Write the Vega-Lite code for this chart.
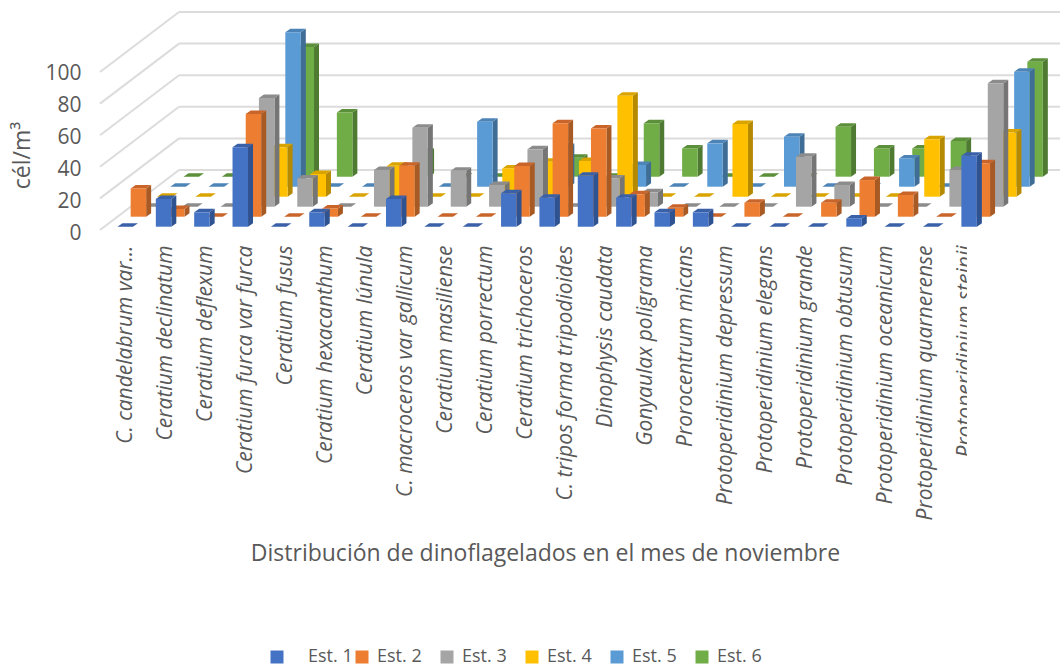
{
"$schema":"https://vega.github.io/schema/vega-lite/v6.json",
"autosize":"none","width":960,"height":220,
"padding":{"left":100,"top":10,"right":0,"bottom":439},
"background":"white",
"view":{"stroke":null},
"layer":[
{"data":{"values":[{"level":0},{"level":20},{"level":40},{"level":60},{"level":80},{"level":100}]},
 "transform":[{"calculate":"datum.level*0.9875","as":"front"},{"calculate":"datum.front+37.5","as":"back"}],
 "mark":{"type":"rule","color":"#dcdcdc","strokeWidth":2},
 "encoding":{
  "x":{"datum":0,"scale":{"domain":[0,25.026]},"axis":null},
  "x2":{"datum":2.06},
  "y":{"field":"front","type":"quantitative","scale":{"domain":[0,137.5],"nice":false},
   "axis":{"values":[0,20,40,60,80,100],"domain":false,"ticks":false,"grid":false,"labelFont":"Open Sans","labelFontSize":21,"labelColor":"#595959","labelPadding":19,"labelOffset":3,"title":"cél/m³","titleFont":"Open Sans","titleFontSize":23,"titleFontWeight":"normal","titleColor":"#595959","titleX":-78,"titleY":145,"titleAnchor":"middle","titleAlign":"center","titleBaseline":"middle","titleAngle":-90}},
  "y2":{"field":"back"}}},
{"data":{"values":[{"level":0},{"level":20},{"level":40},{"level":60},{"level":80},{"level":100}]},
 "transform":[{"calculate":"datum.level*0.9875+37.5","as":"back"}],
 "mark":{"type":"rule","color":"#dcdcdc","strokeWidth":2},
 "encoding":{
  "x":{"datum":2.06,"scale":{"domain":[0,25.026]},"axis":null},
  "x2":{"datum":25.026},
  "y":{"field":"back","type":"quantitative","scale":{"domain":[0,137.5],"nice":false}}}},
{"data":{"values":[
{"n":0,"est":"Est. 6","val":0},{"n":1,"est":"Est. 6","val":0},{"n":2,"est":"Est. 6","val":0},{"n":3,"est":"Est. 6","val":81},{"n":4,"est":"Est. 6","val":40.2},{"n":5,"est":"Est. 6","val":0},{"n":6,"est":"Est. 6","val":15.6},{"n":7,"est":"Est. 6","val":0},{"n":8,"est":"Est. 6","val":0},{"n":9,"est":"Est. 6","val":0},{"n":10,"est":"Est. 6","val":11.9},{"n":11,"est":"Est. 6","val":0},{"n":12,"est":"Est. 6","val":33.4},{"n":13,"est":"Est. 6","val":17.7},{"n":14,"est":"Est. 6","val":0},{"n":15,"est":"Est. 6","val":0},{"n":16,"est":"Est. 6","val":0},{"n":17,"est":"Est. 6","val":31.2},{"n":18,"est":"Est. 6","val":17.7},{"n":19,"est":"Est. 6","val":17.7},{"n":20,"est":"Est. 6","val":22.3},{"n":21,"est":"Est. 6","val":0},{"n":22,"est":"Est. 6","val":71.9},
{"n":0,"est":"Est. 5","val":0},{"n":1,"est":"Est. 5","val":0},{"n":2,"est":"Est. 5","val":0},{"n":3,"est":"Est. 5","val":96.5},{"n":4,"est":"Est. 5","val":0},{"n":5,"est":"Est. 5","val":0},{"n":6,"est":"Est. 5","val":0},{"n":7,"est":"Est. 5","val":0},{"n":8,"est":"Est. 5","val":40.6},{"n":9,"est":"Est. 5","val":0},{"n":10,"est":"Est. 5","val":24.8},{"n":11,"est":"Est. 5","val":0},{"n":12,"est":"Est. 5","val":13.6},{"n":13,"est":"Est. 5","val":0},{"n":14,"est":"Est. 5","val":27.1},{"n":15,"est":"Est. 5","val":0},{"n":16,"est":"Est. 5","val":31.2},{"n":17,"est":"Est. 5","val":0},{"n":18,"est":"Est. 5","val":0},{"n":19,"est":"Est. 5","val":17.7},{"n":20,"est":"Est. 5","val":0},{"n":21,"est":"Est. 5","val":0},{"n":22,"est":"Est. 5","val":71.9},
{"n":0,"est":"Est. 4","val":0},{"n":1,"est":"Est. 4","val":0},{"n":2,"est":"Est. 4","val":0},{"n":3,"est":"Est. 4","val":30.9},{"n":4,"est":"Est. 4","val":14.2},{"n":5,"est":"Est. 4","val":0},{"n":6,"est":"Est. 4","val":19.4},{"n":7,"est":"Est. 4","val":0},{"n":8,"est":"Est. 4","val":0},{"n":9,"est":"Est. 4","val":17.7},{"n":10,"est":"Est. 4","val":21.9},{"n":11,"est":"Est. 4","val":22.3},{"n":12,"est":"Est. 4","val":63.1},{"n":13,"est":"Est. 4","val":0},{"n":14,"est":"Est. 4","val":0},{"n":15,"est":"Est. 4","val":45.4},{"n":16,"est":"Est. 4","val":0},{"n":17,"est":"Est. 4","val":0},{"n":18,"est":"Est. 4","val":0},{"n":19,"est":"Est. 4","val":0},{"n":20,"est":"Est. 4","val":35.9},{"n":21,"est":"Est. 4","val":0},{"n":22,"est":"Est. 4","val":40.2},
{"n":0,"est":"Est. 3","val":0},{"n":1,"est":"Est. 3","val":0},{"n":2,"est":"Est. 3","val":0},{"n":3,"est":"Est. 3","val":68},{"n":4,"est":"Est. 3","val":17.7},{"n":5,"est":"Est. 3","val":0},{"n":6,"est":"Est. 3","val":23},{"n":7,"est":"Est. 3","val":49.4},{"n":8,"est":"Est. 3","val":22.5},{"n":9,"est":"Est. 3","val":13.6},{"n":10,"est":"Est. 3","val":35.9},{"n":11,"est":"Est. 3","val":0},{"n":12,"est":"Est. 3","val":17.7},{"n":13,"est":"Est. 3","val":9},{"n":14,"est":"Est. 3","val":0},{"n":15,"est":"Est. 3","val":0},{"n":16,"est":"Est. 3","val":0},{"n":17,"est":"Est. 3","val":31.2},{"n":18,"est":"Est. 3","val":13.6},{"n":19,"est":"Est. 3","val":0},{"n":20,"est":"Est. 3","val":0},{"n":21,"est":"Est. 3","val":22.9},{"n":22,"est":"Est. 3","val":77.1},
{"n":0,"est":"Est. 2","val":17.7},{"n":1,"est":"Est. 2","val":4.8},{"n":2,"est":"Est. 2","val":0},{"n":3,"est":"Est. 2","val":64.2},{"n":4,"est":"Est. 2","val":0},{"n":5,"est":"Est. 2","val":5.2},{"n":6,"est":"Est. 2","val":0},{"n":7,"est":"Est. 2","val":31.9},{"n":8,"est":"Est. 2","val":0},{"n":9,"est":"Est. 2","val":0},{"n":10,"est":"Est. 2","val":31.7},{"n":11,"est":"Est. 2","val":58.4},{"n":12,"est":"Est. 2","val":55.2},{"n":13,"est":"Est. 2","val":14},{"n":14,"est":"Est. 2","val":5.6},{"n":15,"est":"Est. 2","val":0},{"n":16,"est":"Est. 2","val":8.75},{"n":17,"est":"Est. 2","val":0},{"n":18,"est":"Est. 2","val":8.75},{"n":19,"est":"Est. 2","val":22.9},{"n":20,"est":"Est. 2","val":13.6},{"n":21,"est":"Est. 2","val":0},{"n":22,"est":"Est. 2","val":33.4},
{"n":0,"est":"Est. 1","val":0},{"n":1,"est":"Est. 1","val":17.3},{"n":2,"est":"Est. 1","val":9},{"n":3,"est":"Est. 1","val":49.6},{"n":4,"est":"Est. 1","val":0},{"n":5,"est":"Est. 1","val":9},{"n":6,"est":"Est. 1","val":0},{"n":7,"est":"Est. 1","val":17.3},{"n":8,"est":"Est. 1","val":0},{"n":9,"est":"Est. 1","val":0},{"n":10,"est":"Est. 1","val":20.9},{"n":11,"est":"Est. 1","val":18.1},{"n":12,"est":"Est. 1","val":31.9},{"n":13,"est":"Est. 1","val":18.1},{"n":14,"est":"Est. 1","val":9},{"n":15,"est":"Est. 1","val":9},{"n":16,"est":"Est. 1","val":0},{"n":17,"est":"Est. 1","val":0},{"n":18,"est":"Est. 1","val":0},{"n":19,"est":"Est. 1","val":5.2},{"n":20,"est":"Est. 1","val":0},{"n":21,"est":"Est. 1","val":0},{"n":22,"est":"Est. 1","val":44.4}
]},
 "transform":[
  {"calculate":"toNumber(substring(datum.est,5))-1","as":"s"},
  {"calculate":"0.455+datum.n+0.344*datum.s","as":"xl"},
  {"calculate":"2.06+6.25*datum.s","as":"b"},
  {"calculate":"datum.b+datum.val","as":"t"},
  {"calculate":"[{x:datum.xl+0.404,y:datum.t,y2:datum.b,f:' lado'},{x:datum.xl+0.534,y:datum.t+2.19,y2:datum.b+2.19,f:' lado'},{x:datum.xl,y:datum.t,y2:datum.t,f:' tapa'},{x:datum.xl+0.13,y:datum.t+2.19,y2:datum.t,f:' tapa'},{x:datum.xl+0.404,y:datum.t+2.19,y2:datum.t,f:' tapa'},{x:datum.xl+0.534,y:datum.t+2.19,y2:datum.t+2.19,f:' tapa'},{x:datum.xl,y:datum.t,y2:datum.b,f:''},{x:datum.xl+0.404,y:datum.t,y2:datum.b,f:''}]","as":"p"},
  {"flatten":["p"]},
  {"calculate":"datum.p.x","as":"px"},
  {"calculate":"datum.p.y","as":"py"},
  {"calculate":"datum.p.y2","as":"py2"},
  {"calculate":"datum.est+datum.p.f","as":"shade"},
  {"calculate":"datum.n+' '+datum.shade","as":"face"}
 ],
 "mark":{"type":"area","interpolate":"linear","strokeWidth":0},
 "encoding":{
  "x":{"field":"px","type":"quantitative","scale":{"domain":[0,25.026]},"axis":null},
  "y":{"field":"py","type":"quantitative","stack":null,"scale":{"domain":[0,137.5],"nice":false}},
  "y2":{"field":"py2"},
  "detail":{"field":"face"},
  "fill":{"field":"shade","type":"nominal",
   "scale":{"domain":["Est. 1","Est. 2","Est. 3","Est. 4","Est. 5","Est. 6","Est. 1 lado","Est. 2 lado","Est. 3 lado","Est. 4 lado","Est. 5 lado","Est. 6 lado","Est. 1 tapa","Est. 2 tapa","Est. 3 tapa","Est. 4 tapa","Est. 5 tapa","Est. 6 tapa"],
    "range":["#4472C4","#ED7D31","#A5A5A5","#FFC000","#5B9BD5","#70AD47","#2F5290","#A85A25","#757575","#B58900","#3F6D96","#4F7A32","#3A61A8","#C9652A","#8C8C8C","#D9A400","#4C84B7","#5C8F3A"]},
   "legend":{"values":["Est. 1","Est. 2","Est. 3","Est. 4","Est. 5","Est. 6"],"title":null,"orient":"none","legendX":168,"legendY":638,"direction":"horizontal","columns":6,"gridAlign":"all","columnPadding":0,"symbolType":"square","symbolSize":169,"symbolStrokeWidth":0,"labelFont":"Open Sans","labelFontSize":18,"labelColor":"#595959","labelOffset":6,
    "encoding":{"labels":{"dx":{"value":{"expr":"datum.value=='Est. 1'?16:0"}}}}}}}},
{"data":{"values":[{"name":"C. candelabrum var…"},{"name":"Ceratium declinatum"},{"name":"Ceratium deflexum"},{"name":"Ceratium furca var furca"},{"name":"Ceratium fusus"},{"name":"Ceratium hexacanthum"},{"name":"Ceratium lúnula"},{"name":"C. macroceros var gallicum"},{"name":"Ceratium  masiliense"},{"name":"Ceratium  porrectum"},{"name":"Ceratium trichoceros"},{"name":"C. tripos forma tripodioides"},{"name":"Dinophysis caudata"},{"name":"Gonyaulax poligrama"},{"name":"Prorocentrum micans"},{"name":"Protoperidinium depressum"},{"name":"Protoperidinium elegans"},{"name":"Protoperidinium grande"},{"name":"Protoperidinium obtusum"},{"name":"Protoperidinium oceanicum"},{"name":"Protoperidinium quarnerense"},{"name":"Protoperidinium steinii"}]},
 "mark":{"type":"point","opacity":0},
 "encoding":{
  "x":{"field":"name","type":"nominal","sort":null,"scale":{"type":"point","range":[25,865],"padding":0},
   "axis":{"labelAngle":-90,"labelAlign":"right","labelBaseline":"middle","labelFont":"Open Sans","labelFontStyle":"italic","labelFontSize":21,"labelColor":"#595959","labelPadding":15,"labelLimit":320,"labelOverlap":false,"domain":false,"ticks":false,"grid":false,
    "title":"Distribución de dinoflagelados en el mes de noviembre","titleFont":"Open Sans","titleFontSize":23,"titleFontWeight":"normal","titleColor":"#595959","titleX":445,"titleY":323,"titleAlign":"center","titleBaseline":"middle","titleAnchor":"middle"}}}},
{"data":{"values":[{"x0":22.6,"x1":23.5,"y0":-6.25,"y1":-143.75}]},
 "mark":{"type":"rect","fill":"white"},
 "encoding":{
  "x":{"field":"x0","type":"quantitative","scale":{"domain":[0,25.026]},"axis":null},
  "x2":{"field":"x1"},
  "y":{"field":"y0","type":"quantitative","scale":{"domain":[0,137.5],"nice":false}},
  "y2":{"field":"y1"}}}
],
"resolve":{"scale":{"x":"independent"},"axis":{"x":"independent"}}
}
